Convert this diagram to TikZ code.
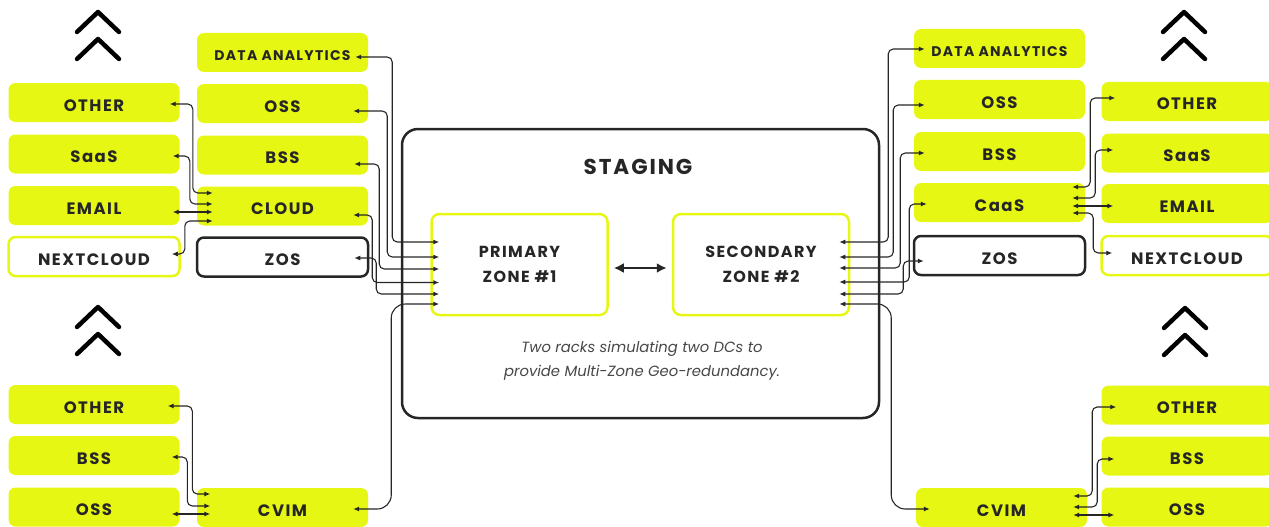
\documentclass[tikz,border=0pt]{standalone}
\usepackage{fontspec}
\setmainfont{Poppins}
\newfontfamily\labelfont[LetterSpace=9]{Poppins}
\newfontfamily\notefont{Poppins}
\usetikzlibrary{arrows.meta}
\definecolor{lime}{RGB}{231,247,20}
\definecolor{ink}{RGB}{38,38,38}
\tikzset{
  >={Latex[length=6pt,width=5pt]},
}
\tikzstyle{box}=[rounded corners=7pt,fill=lime,minimum width=171pt,minimum height=39pt,
  inner sep=0pt,text height=17pt,text depth=0pt,text=ink,font=\labelfont\bfseries\fontsize{16.5}{18}\selectfont]
\tikzstyle{small}=[font=\labelfont\bfseries\fontsize{14}{16}\selectfont]
\tikzstyle{hollow}=[fill=white,draw=lime,line width=2.5pt]
\tikzstyle{dark}=[fill=white,draw=ink,line width=2.5pt]
\tikzstyle{zone}=[rounded corners=8pt,draw=lime,line width=2.5pt,minimum width=176pt,minimum height=101pt,
  align=center,text=ink,font=\labelfont\bfseries\fontsize{16}{25}\selectfont]
\tikzstyle{link}=[<->,ink,line width=1.1pt,rounded corners=5pt]
\tikzstyle{chevron}=[line width=4.5pt,line cap=round,line join=round,black]

\begin{document}
\begin{tikzpicture}[x=1pt,y=-1pt]
    \useasboundingbox (0,0) rectangle (1269,527);
    % staging area
    \node[draw=ink,line width=2.5pt,rounded corners=16pt,minimum width=477pt,minimum height=289pt] (staging) at (640.5,273.5) {};
    \node[text=ink,font=\labelfont\bfseries\fontsize{21.5}{26}\selectfont] (stagingLabel) at (638,167) {STAGING};
    \node[zone] (primary) at (519.5,264.5) {PRIMARY\\ZONE \#1};
    \node[zone] (secondary) at (761,264.5) {SECONDARY\\ZONE \#2};
    \node[text=ink!85,align=center,font=\notefont\itshape\fontsize{14.8}{24}\selectfont] (note) at (642,361)
      {Two racks simulating two DCs to\\provide Multi-Zone Geo-redundancy.};
    \draw[{Latex[length=10pt,width=10pt]}-{Latex[length=10pt,width=10pt]},line width=2.5pt,ink]
      ([xshift=5pt,yshift=-3.5pt]primary.east) -- ([xshift=-5pt,yshift=-3.5pt]secondary.west);
    % left side
    \node[box] (lOther) at (94,102.5) {OTHER};
    \node[box] (lSaas) at (94,154) {SaaS};
    \node[box] (lEmail) at (94,205.5) {EMAIL};
    \node[box,hollow] (lNext) at (94,256.5) {NEXTCLOUD};
    \node[box,small] (lData) at (282.5,52.5) {DATA ANALYTICS};
    \node[box] (lOss) at (282.5,103.5) {OSS};
    \node[box] (lBss) at (282.5,155) {BSS};
    \node[box] (lCloud) at (282.5,206) {CLOUD};
    \node[box,dark] (lZos) at (282.5,257) {ZOS};
    \node[box] (lOther2) at (94,404.5) {OTHER};
    \node[box] (lBss2) at (94,455.5) {BSS};
    \node[box] (lOss2) at (94,507) {OSS};
    \node[box] (lCvim) at (282.5,507.5) {CVIM};
    % right side
    \node[box,small] (rData) at (999.5,48.5) {DATA ANALYTICS};
    \node[box] (rOss) at (999.5,99.5) {OSS};
    \node[box] (rBss) at (999.5,151.5) {BSS};
    \node[box] (rCaas) at (999.5,202.5) {CaaS};
    \node[box,dark] (rZos) at (999.5,255.5) {ZOS};
    \node[box] (rOther) at (1187,101.5) {OTHER};
    \node[box] (rSaas) at (1187,153) {SaaS};
    \node[box] (rEmail) at (1187,203.5) {EMAIL};
    \node[box,hollow] (rNext) at (1187,255.5) {NEXTCLOUD};
    \node[box] (rCvim) at (1001.5,507.5) {CVIM};
    \node[box] (rOther2) at (1187,405) {OTHER};
    \node[box] (rBss2) at (1187,456) {BSS};
    \node[box] (rOss2) at (1187,507) {OSS};
    % chevrons
    \foreach \cx/\cy in {98/12,1184/12,98/307,1185/308}{
      \draw[chevron] (\cx-21,\cy+20) -- (\cx,\cy) -- (\cx+21,\cy+20);
      \draw[chevron] (\cx-21,\cy+47) -- (\cx,\cy+27) -- (\cx+21,\cy+47);
    }
    % services to cloud
    \draw[link] ([xshift=-10pt,yshift=-1.5pt]lOther.east) -| ([xshift=-4pt,yshift=13pt]lCloud.west) -- ([xshift=16pt,yshift=13pt]lCloud.west);
    \draw[link] ([xshift=-7pt,yshift=-2pt]lSaas.east) -| ([xshift=-7pt,yshift=2pt]lCloud.west) -- ([xshift=16pt,yshift=2pt]lCloud.west);
    \draw[link] ([xshift=-7pt,yshift=-6.5pt]lEmail.east) -- ([xshift=16pt,yshift=-6pt]lCloud.west);
    \draw[link] ([xshift=-9pt,yshift=2.5pt]lNext.east) -| ([xshift=-12pt,yshift=-15pt]lCloud.west) -- ([xshift=16pt,yshift=-15pt]lCloud.west);
    % platforms to primary zone
    \draw[link] ([xshift=-13pt,yshift=-4.5pt]lData.east) -| ([xshift=-38pt,yshift=22.5pt]primary.west) -- ([xshift=9pt,yshift=22.5pt]primary.west);
    \draw[link] ([xshift=-15pt,yshift=-7.5pt]lOss.east) -| ([xshift=-43pt,yshift=7.5pt]primary.west) -- ([xshift=9pt,yshift=7.5pt]primary.west);
    \draw[link] ([xshift=-14pt,yshift=-9pt]lBss.east) -| ([xshift=-51pt,yshift=-4.5pt]primary.west) -- ([xshift=9pt,yshift=-4.5pt]primary.west);
    \draw[link] ([xshift=-15pt,yshift=-9pt]lCloud.east) -| ([xshift=-58pt,yshift=-18pt]primary.west) -- ([xshift=9pt,yshift=-18pt]primary.west);
    \draw[link] ([xshift=-15pt,yshift=-1pt]lZos.east) -| ([xshift=-54pt,yshift=-29.5pt]primary.west) -- ([xshift=9pt,yshift=-29.5pt]primary.west);
    \draw[link,rounded corners=14pt] ([xshift=-15pt,yshift=-1.5pt]lCvim.east) -| ([xshift=-39pt,yshift=-39.5pt]primary.west) -- ([xshift=9pt,yshift=-39.5pt]primary.west);
    % services to cvim (left)
    \draw[link] ([xshift=-12pt,yshift=-1.5pt]lOther2.east) -| ([xshift=-4.5pt,yshift=13.5pt]lCvim.west) -- ([xshift=13.5pt,yshift=13.5pt]lCvim.west);
    \draw[link] ([xshift=-8pt,yshift=-1.5pt]lBss2.east) -| ([xshift=-9.5pt,yshift=1.5pt]lCvim.west) -- ([xshift=13.5pt,yshift=1.5pt]lCvim.west);
    \draw[link] ([xshift=-8pt,yshift=-7pt]lOss2.east) -- ([xshift=13.5pt,yshift=-6.5pt]lCvim.west);
    % platforms to secondary zone
    \draw[link] ([xshift=11pt,yshift=-0.5pt]rData.west) -| ([xshift=38pt,yshift=22.5pt]secondary.east) -- ([xshift=-11pt,yshift=22.5pt]secondary.east);
    \draw[link] ([xshift=11pt,yshift=-5.5pt]rOss.west) -| ([xshift=43pt,yshift=7.5pt]secondary.east) -- ([xshift=-11pt,yshift=7.5pt]secondary.east);
    \draw[link] ([xshift=11pt,yshift=-1.5pt]rBss.west) -| ([xshift=50pt,yshift=-3.5pt]secondary.east) -- ([xshift=-11pt,yshift=-3.5pt]secondary.east);
    \draw[link] ([xshift=13pt,yshift=-1.5pt]rCaas.west) -| ([xshift=59pt,yshift=-17.5pt]secondary.east) -- ([xshift=-11pt,yshift=-17.5pt]secondary.east);
    \draw[link] ([xshift=11pt,yshift=-5.5pt]rZos.west) -| ([xshift=53pt,yshift=-29.5pt]secondary.east) -- ([xshift=-11pt,yshift=-29.5pt]secondary.east);
    \draw[link,rounded corners=14pt] ([xshift=14pt,yshift=-1.5pt]rCvim.west) -| ([xshift=41pt,yshift=-39.5pt]secondary.east) -- ([xshift=-11pt,yshift=-39.5pt]secondary.east);
    % services to caas
    \draw[link] ([xshift=14pt,yshift=3.5pt]rOther.west) -| ([xshift=5pt,yshift=15.5pt]rCaas.east) -- ([xshift=-13pt,yshift=15.5pt]rCaas.east);
    \draw[link] ([xshift=12pt,yshift=3pt]rSaas.west) -| ([xshift=10pt,yshift=4.5pt]rCaas.east) -- ([xshift=-13pt,yshift=4.5pt]rCaas.east);
    \draw[link] ([xshift=12pt,yshift=-2.5pt]rEmail.west) -- ([xshift=-13pt,yshift=-3.5pt]rCaas.east);
    \draw[link] ([xshift=12pt,yshift=2.5pt]rNext.west) -| ([xshift=8pt,yshift=-10.5pt]rCaas.east) -- ([xshift=-13pt,yshift=-10.5pt]rCaas.east);
    % services to cvim (right)
    \draw[link] ([xshift=15pt,yshift=-2pt]rOther2.west) -| ([xshift=5pt,yshift=11.5pt]rCvim.east) -- ([xshift=-14pt,yshift=11.5pt]rCvim.east);
    \draw[link] ([xshift=13pt,yshift=-3pt]rBss2.west) -| ([xshift=10pt,yshift=0.5pt]rCvim.east) -- ([xshift=-14pt,yshift=0.5pt]rCvim.east);
    \draw[link] ([xshift=13pt,yshift=-8pt]rOss2.west) -- ([xshift=-14pt,yshift=-7.5pt]rCvim.east);
\end{tikzpicture}
\end{document}
